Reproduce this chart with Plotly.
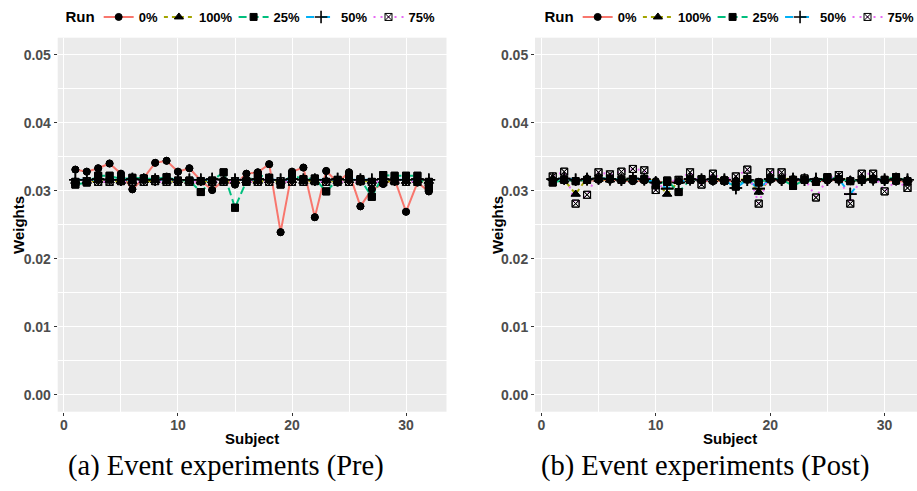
import plotly.graph_objects as go

W, H = 917, 491

subjects = list(range(1, 33))
runs = ["0%", "100%", "25%", "50%", "75%"]

# Weights per subject, before the event
pre_0 = [0.0331, 0.0328, 0.0333, 0.0340, 0.0325, 0.0302, 0.0319, 0.0341, 0.0344, 0.0328,
         0.0333, 0.0315, 0.0301, 0.0315, 0.0309, 0.0325, 0.0327, 0.0339, 0.0239, 0.0328,
         0.0334, 0.0261, 0.0329, 0.0312, 0.0327, 0.0277, 0.0302, 0.0310, 0.0317, 0.0269,
         0.0312, 0.0299]
pre_100 = [0.0314, 0.0314, 0.0315, 0.0315, 0.0314, 0.0314, 0.0315, 0.0315, 0.0314, 0.0315,
           0.0314, 0.0314, 0.0315, 0.0314, 0.0314, 0.0315, 0.0314, 0.0315, 0.0314, 0.0315,
           0.0314, 0.0314, 0.0315, 0.0314, 0.0315, 0.0314, 0.0314, 0.0315, 0.0314, 0.0314,
           0.0315, 0.0314]
pre_25 = [0.0309, 0.0312, 0.0322, 0.0322, 0.0317, 0.0319, 0.0318, 0.0317, 0.0320, 0.0315,
          0.0315, 0.0298, 0.0315, 0.0327, 0.0275, 0.0314, 0.0323, 0.0319, 0.0309, 0.0323,
          0.0317, 0.0318, 0.0299, 0.0316, 0.0323, 0.0317, 0.0291, 0.0323, 0.0322, 0.0322,
          0.0322, 0.0304]
pre_50 = [0.0316, 0.0316, 0.0317, 0.0316, 0.0316, 0.0317, 0.0316, 0.0316, 0.0317, 0.0316,
          0.0316, 0.0316, 0.0317, 0.0316, 0.0316, 0.0316, 0.0317, 0.0316, 0.0316, 0.0317,
          0.0316, 0.0316, 0.0316, 0.0317, 0.0316, 0.0316, 0.0316, 0.0317, 0.0316, 0.0316,
          0.0317, 0.0316]
pre_75 = [0.0313, 0.0314, 0.0313, 0.0313, 0.0314, 0.0313, 0.0313, 0.0314, 0.0313, 0.0313,
          0.0313, 0.0314, 0.0313, 0.0313, 0.0314, 0.0313, 0.0313, 0.0313, 0.0314, 0.0313,
          0.0313, 0.0314, 0.0313, 0.0313, 0.0313, 0.0314, 0.0313, 0.0313, 0.0314, 0.0313,
          0.0313, 0.0313]

# Weights per subject, after the event
post_0 = [0.0315, 0.0316, 0.0314, 0.0315, 0.0316, 0.0316, 0.0315, 0.0314, 0.0315, 0.0314,
          0.0312, 0.0314, 0.0316, 0.0315, 0.0314, 0.0315, 0.0314, 0.0316, 0.0313, 0.0316,
          0.0315, 0.0314, 0.0316, 0.0314, 0.0315, 0.0316, 0.0314, 0.0315, 0.0316, 0.0315,
          0.0314, 0.0313]
post_100 = [0.0318, 0.0316, 0.0295, 0.0319, 0.0317, 0.0316, 0.0317, 0.0316, 0.0317, 0.0314,
            0.0295, 0.0314, 0.0316, 0.0317, 0.0316, 0.0317, 0.0316, 0.0317, 0.0298, 0.0317,
            0.0317, 0.0318, 0.0317, 0.0316, 0.0317, 0.0318, 0.0316, 0.0317, 0.0318, 0.0317,
            0.0318, 0.0316]
post_25 = [0.0312, 0.0316, 0.0314, 0.0316, 0.0318, 0.0318, 0.0316, 0.0317, 0.0317, 0.0308,
           0.0315, 0.0298, 0.0316, 0.0317, 0.0316, 0.0315, 0.0306, 0.0317, 0.0312, 0.0318,
           0.0317, 0.0307, 0.0316, 0.0313, 0.0320, 0.0317, 0.0314, 0.0316, 0.0317, 0.0316,
           0.0320, 0.0314]
post_50 = [0.0317, 0.0318, 0.0316, 0.0317, 0.0318, 0.0317, 0.0316, 0.0318, 0.0317, 0.0312,
           0.0303, 0.0312, 0.0317, 0.0316, 0.0317, 0.0316, 0.0304, 0.0316, 0.0303, 0.0317,
           0.0316, 0.0317, 0.0316, 0.0317, 0.0316, 0.0317, 0.0295, 0.0316, 0.0317, 0.0316,
           0.0317, 0.0316]
post_75 = [0.0321, 0.0328, 0.0281, 0.0294, 0.0327, 0.0324, 0.0328, 0.0332, 0.0330, 0.0301,
           0.0313, 0.0316, 0.0327, 0.0309, 0.0325, 0.0315, 0.0321, 0.0331, 0.0281, 0.0327,
           0.0327, 0.0316, 0.0318, 0.0290, 0.0318, 0.0323, 0.0281, 0.0325, 0.0325, 0.0299,
           0.0315, 0.0304]

x_ticks = [0, 10, 20, 30]
y_ticks = [0.00, 0.01, 0.02, 0.03, 0.04, 0.05]
captions = ["(a) Event experiments (Pre)", "(b) Event experiments (Post)"]

colors = ["#F8766D", "#A3A500", "#00BF7D", "#00B0F6", "#E76BF3"]
dashes = ["solid", "4px,4px", "8px,4px", "8px,8px", "2px,5px"]
symbols = ["circle", "triangle-up", "square", "cross-thin-open", "square-x-open"]
msizes = [7, 8, 7, 9, 7]
mlines = [1, 1, 1, 1.6, 1]
mline_colors = ["black", "black", "black", "black", "#333333"]

panels = [
    dict(data=[pre_0, pre_100, pre_25, pre_50, pre_75], xa="x", ya="y", legend="legend"),
    dict(data=[post_0, post_100, post_25, post_50, post_75], xa="x2", ya="y2", legend="legend2"),
]


def marker(i):
    return dict(symbol=symbols[i], size=msizes[i], color="black",
                line=dict(color=mline_colors[i], width=mlines[i]))


fig = go.Figure()

for p in panels:
    # lines with legend entries
    for i, run in enumerate(runs):
        fig.add_trace(go.Scatter(
            x=subjects, y=p["data"][i], name=run, mode="lines+markers",
            line=dict(color=colors[i], width=2, dash=dashes[i]),
            marker=marker(i),
            xaxis=p["xa"], yaxis=p["ya"], legend=p["legend"],
        ))
    # points drawn above every line
    for i, run in enumerate(runs):
        fig.add_trace(go.Scatter(
            x=subjects, y=p["data"][i], mode="markers", showlegend=False,
            marker=marker(i),
            xaxis=p["xa"], yaxis=p["ya"], hoverinfo="skip",
        ))


def px_x(v):
    return v / W


def px_y(v):
    return 1 - v / H


tick_font = dict(family="Liberation Sans", size=14, color="#4D4D4D", weight="bold")


def xaxis(domain, rng, anchor):
    return dict(domain=domain, range=rng, tickvals=x_ticks, ticks="outside", ticklen=3,
                tickcolor="#333333", tickfont=tick_font, showgrid=True, gridcolor="white",
                gridwidth=1.1, zeroline=False, showline=False, anchor=anchor,
                ticklabelstandoff=-3,
                minor=dict(dtick=5, tick0=0, showgrid=True, gridcolor="white", gridwidth=0.5))


def yaxis(anchor):
    return dict(domain=[px_y(411.7), px_y(37.7)], range=[-0.0025, 0.0525], tickvals=y_ticks,
                tickformat=".2f", ticks="outside", ticklen=3, tickcolor="#333333",
                tickfont=tick_font, showgrid=True, gridcolor="white", gridwidth=1.1,
                zeroline=False, showline=False, anchor=anchor,
                minor=dict(dtick=0.005, tick0=0, showgrid=True, gridcolor="white", gridwidth=0.5))


legend_common = dict(orientation="h", yanchor="middle", y=px_y(17), xanchor="center",
                     xref="container", yref="container",
                     bgcolor="rgba(0,0,0,0)", indentation=-4,
                     font=dict(family="Liberation Sans", size=13, color="black", weight="bold"),
                     title=dict(text="Run", side="left",
                                font=dict(family="Liberation Sans", size=15, color="black",
                                          weight="bold")),
                     itemwidth=30, tracegroupgap=0)

annotations = []
for cx, cap in zip([226, 705], captions):
    annotations.append(dict(text=cap, x=px_x(cx), y=px_y(466), xref="paper", yref="paper",
                            showarrow=False, xanchor="center", yanchor="middle",
                            font=dict(family="Liberation Serif", size=28.5, color="black")))
for cx in [252, 730]:
    annotations.append(dict(text="Subject", x=px_x(cx), y=px_y(438), xref="paper", yref="paper",
                            showarrow=False, xanchor="center", yanchor="middle",
                            font=dict(family="Liberation Sans", size=15, color="black",
                                      weight="bold")))
for cx in [18, 497]:
    annotations.append(dict(text="Weights", x=px_x(cx), y=px_y(225), xref="paper", yref="paper",
                            showarrow=False, xanchor="center", yanchor="middle", textangle=-90,
                            font=dict(family="Liberation Sans", size=15, color="black",
                                      weight="bold")))

fig.update_layout(
    width=W, height=H, margin=dict(l=0, r=0, t=0, b=0, autoexpand=False),
    paper_bgcolor="white", plot_bgcolor="#EBEBEB",
    xaxis=xaxis([px_x(57.7), px_x(446.5)], [-0.55, 33.55], "y"),
    yaxis=yaxis("x"),
    xaxis2=xaxis([px_x(535), 1.0], [-0.55, 32.83], "y2"),
    yaxis2=yaxis("x2"),
    legend=dict(legend_common, x=px_x(252)),
    legend2=dict(legend_common, x=px_x(731)),
    annotations=annotations,
    showlegend=True,
)

fig.write_html("out.html")
